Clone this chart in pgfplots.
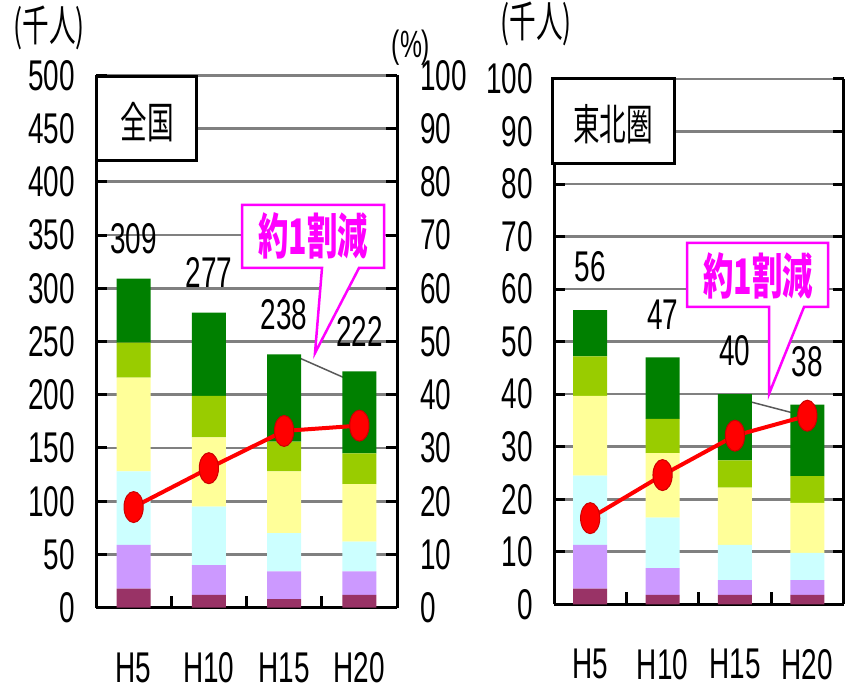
\documentclass[border=0pt]{standalone}
\usepackage{pgfplots}
\pgfplotsset{compat=1.18}
\usepackage{pgfplotstable}
\usepackage{fontspec}
\setmainfont{Liberation Sans}[FakeStretch=0.65]
\newfontfamily\jp{Noto Sans CJK JP}[FakeStretch=0.62]

\definecolor{segA}{HTML}{993366}
\definecolor{segB}{HTML}{CC99FF}
\definecolor{segC}{HTML}{CCFFFF}
\definecolor{segD}{HTML}{FFFF99}
\definecolor{segE}{HTML}{99CC00}
\definecolor{segF}{HTML}{008000}
\definecolor{callout}{HTML}{FF00FF}

\newcommand\ticksize{\fontsize{43bp}{45bp}\selectfont}

% 全国 (千人) by component, total, and share (%)
\pgfplotstableread{
x  a  b  c  d  e  f  tot rate
0  18 41 69 88 33 60 309 18.9
1  12 28 55 65 39 78 277 26.2
2  8  26 36 58 28 82 238 33.2
3  12 22 28 54 29 77 222 34.2
}\zenkoku

% 東北圏 (千人) by component, total, and share (%)
\pgfplotstableread{
x  a   b   c    d    e   f    tot rate
0  3   8.3 13.2 15.2 7.5 8.8  56  16.4
1  1.8 5.1 9.6  12.3 6.5 11.7 47  24.6
2  1.8 2.8 6.7  10.9 5.2 12.6 40  32.1
3  1.8 2.8 5.2  9.5  5.1 13.6 38  35.9
}\tohoku

\pgfplotsset{
  /pgf/number format/assume math mode=true,
  frame/.style={
    scale only axis, clip=false, anchor=south west,
    xmin=-0.5, xmax=3.5, ymin=0,
  },
  panel/.style={
    frame,
    axis x line*=bottom, axis y line*=box,
    axis line style={-, line width=3bp, black},
    tick align=inside,
    xtick={0,1,2,3}, xticklabels={H5,H10,H15,H20},
    minor xtick={0.5,1.5,2.5},
    major x tick style={draw=none},
    minor x tick style={black, line width=3bp},
    minor tick length=12bp,
    major tick length=11bp,
    major y tick style={black, line width=3bp},
    ymajorgrids, major grid style={gray, line width=2.6bp},
    tick label style={font=\ticksize},
    xticklabel style={anchor=center, inner sep=0pt, yshift=-60bp},
    yticklabel style={anchor=east, inner sep=0pt, xshift=-21bp},
    ybar stacked, bar width=34bp,
  },
  rateline/.style={
    red, line width=4bp, mark=*, mark size=15.5bp,
    mark options={xscale=0.62, fill=red, draw=red!80!black, line width=1bp},
  },
  totals/.style={
    draw=none, mark=none, point meta=explicit, nodes near coords,
    every node near coord/.style={font=\ticksize, anchor=center, inner sep=0pt, yshift=#1},
  },
}

\begin{document}
\begin{tikzpicture}
\useasboundingbox (0bp,0bp) rectangle (845bp,690bp);

% ---- 全国 ----
\begin{axis}[panel, at={(96bp,82.3bp)},
  width=301bp, height=532.4bp, ymax=500,
  ytick={0,50,...,500}, ytick pos=left]
  \addplot[fill=segA, draw=none] table[x=x, y=a] {\zenkoku};
  \addplot[fill=segB, draw=none] table[x=x, y=b] {\zenkoku};
  \addplot[fill=segC, draw=none] table[x=x, y=c] {\zenkoku};
  \addplot[fill=segD, draw=none] table[x=x, y=d] {\zenkoku};
  \addplot[fill=segE, draw=none] table[x=x, y=e] {\zenkoku};
  \addplot[fill=segF, draw=none] table[x=x, y=f] {\zenkoku};
  \draw[black!65, line width=1.5bp] (axis cs:2.22,234) -- (axis cs:2.81,215.6);
\end{axis}
\begin{axis}[frame, at={(96bp,82.3bp)},
  width=301bp, height=532.4bp, ymax=500, hide axis]
  \addplot[totals=40bp] table[x=x, y=tot, meta=tot] {\zenkoku};
\end{axis}
\begin{axis}[frame, at={(96bp,82.3bp)},
  width=301bp, height=532.4bp, ymax=100,
  axis x line=none, axis y line*=right,
  axis line style={-, line width=3bp, black},
  tick align=inside, major tick length=11bp,
  major y tick style={black, line width=3bp},
  ytick={0,10,...,100},
  tick label style={font=\ticksize},
  yticklabel style={anchor=west, inner sep=0pt, xshift=23bp}]
  \addplot[rateline] table[x=x, y=rate] {\zenkoku};
\end{axis}

% ---- 東北圏 ----
\begin{axis}[panel, at={(554bp,85.7bp)},
  width=289.5bp, height=525.3bp, ymax=100,
  ytick={0,10,...,100}, ytick pos=both, yticklabel pos=left]
  \addplot[fill=segA, draw=none] table[x=x, y=a] {\tohoku};
  \addplot[fill=segB, draw=none] table[x=x, y=b] {\tohoku};
  \addplot[fill=segC, draw=none] table[x=x, y=c] {\tohoku};
  \addplot[fill=segD, draw=none] table[x=x, y=d] {\tohoku};
  \addplot[fill=segE, draw=none] table[x=x, y=e] {\tohoku};
  \addplot[fill=segF, draw=none] table[x=x, y=f] {\tohoku};
  \draw[black!65, line width=1.5bp] (axis cs:2.17,38.7) -- (axis cs:2.81,36.4);
\end{axis}
\begin{axis}[frame, at={(554bp,85.7bp)},
  width=289.5bp, height=525.3bp, ymax=100, hide axis]
  \addplot[totals=43bp] table[x=x, y=tot, meta=tot] {\tohoku};
  \addplot[rateline] table[x=x, y=rate] {\tohoku};
\end{axis}

% unit labels
\node[font=\jp\fontsize{43bp}{45bp}\selectfont] at (49bp,662bp) {(千人)};
\node[font=\jp\fontsize{43bp}{45bp}\selectfont] at (536bp,666bp) {(千人)};
\node[font=\fontsize{38bp}{40bp}\selectfont] at (411bp,642bp) {(\%)};

% panel titles
\draw[black, line width=3bp, fill=white] (96bp,613bp) rectangle (196bp,529bp);
\node[font=\jp\fontsize{43bp}{45bp}\selectfont] at (147bp,568bp) {全国};
\draw[black, line width=3bp, fill=white] (552bp,611bp) rectangle (674bp,526bp);
\node[font=\jp\fontsize{43bp}{45bp}\selectfont] at (613bp,566bp) {東北圏};

% callouts
\filldraw[fill=white, draw=callout, line width=2.5bp]
  (242bp,485bp) -- (384bp,485bp) -- (384bp,422bp) -- (359bp,422bp) -- (315bp,337bp)
  -- (322bp,422bp) -- (242bp,422bp) -- cycle;
\node[text=callout, font=\jp\bfseries\fontsize{49bp}{51bp}\selectfont] at (313bp,454bp) {約1割減};
\filldraw[fill=white, draw=callout, line width=2.5bp]
  (687bp,447bp) -- (828bp,447bp) -- (828bp,383bp) -- (804bp,383bp) -- (769bp,296bp)
  -- (769bp,383bp) -- (687bp,383bp) -- cycle;
\node[text=callout, font=\jp\bfseries\fontsize{49bp}{51bp}\selectfont] at (758bp,414bp) {約1割減};
\end{tikzpicture}
\end{document}
